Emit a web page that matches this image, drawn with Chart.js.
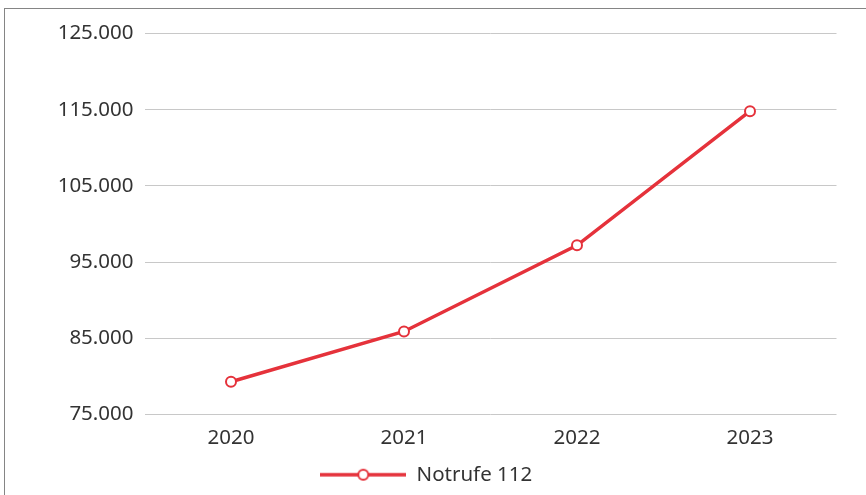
<!DOCTYPE html>
<html>
<head>
<meta charset="utf-8">
<script src="https://cdn.jsdelivr.net/npm/chart.js@4"></script>
<style>
html,body{margin:0;padding:0;background:#fff;width:866px;height:495px;overflow:hidden;}
#frame{position:absolute;left:4px;top:8px;width:900px;height:600px;border-left:1.5px solid #858585;border-top:1.5px solid #858585;}
#wrap{position:absolute;left:0;top:0;width:866px;height:495px;}
</style>
</head>
<body>
<div id="frame"></div>
<div id="wrap"><canvas id="c" width="866" height="495"></canvas></div>
<script>
const categories = ['2020', '2021', '2022', '2023'];
const seriesName = 'Notrufe 112';
const seriesValues = [79300, 85900, 97200, 114800];
const yTicks = [75000, 85000, 95000, 105000, 115000, 125000];

const red = '#e5323b';
const font = {family: '"Noto Sans", sans-serif', size: 20.5};

// legend symbol: line with open circle
const sym = document.createElement('canvas');
sym.width = 86; sym.height = 14;
(function(){
  const g = sym.getContext('2d');
  g.strokeStyle = red; g.lineWidth = 3.5;
  g.beginPath(); g.moveTo(0, 7); g.lineTo(86, 7); g.stroke();
  g.beginPath(); g.arc(43, 7, 5, 0, Math.PI*2);
  g.fillStyle = '#fff'; g.fill();
  g.lineWidth = 2; g.stroke();
})();

new Chart(document.getElementById('c'), {
  type: 'line',
  data: {
    labels: categories,
    datasets: [{
      label: seriesName,
      data: seriesValues,
      borderColor: red,
      backgroundColor: '#fff',
      borderWidth: 3.5,
      pointRadius: 5,
      pointBorderWidth: 2,
      pointBackgroundColor: '#fff',
      pointBorderColor: red,
      tension: 0
    }]
  },
  options: {
    responsive: false,
    animation: false,
    layout: {padding: {left: 16, right: 29.5, top: 33.5, bottom: 0}},
    plugins: {
      tooltip: {enabled: false},
      legend: {
        position: 'bottom',
        labels: {
          usePointStyle: true,
          pointStyleWidth: 86,
          font: font,
          color: '#333',
          padding: 9.5,
          generateLabels: (chart) => [{
            text: seriesName,
            pointStyle: sym,
            fillStyle: '#fff',
            strokeStyle: red,
            lineWidth: 0,
            fontColor: '#333',
            datasetIndex: 0
          }]
        }
      }
    },
    scales: {
      x: {
        offset: true,
        grid: {display: false, drawTicks: false},
        border: {display: false},
        ticks: {font: font, color: '#333', padding: 11},
        afterFit: (s) => { s.height = 40.5; }
      },
      y: {
        min: 75000,
        max: 125000,
        afterBuildTicks: (s) => { s.ticks = yTicks.map(v => ({value: v})); },
        grid: {color: '#c8c8c8', lineWidth: 1, drawTicks: false},
        border: {display: false},
        ticks: {
          font: font, color: '#333', padding: 11,
          callback: (v) => v.toLocaleString('de-DE', {minimumFractionDigits: 0})
        },
        afterFit: (s) => { s.width = 128.5; }
      }
    }
  }
});
</script>
</body>
</html>
